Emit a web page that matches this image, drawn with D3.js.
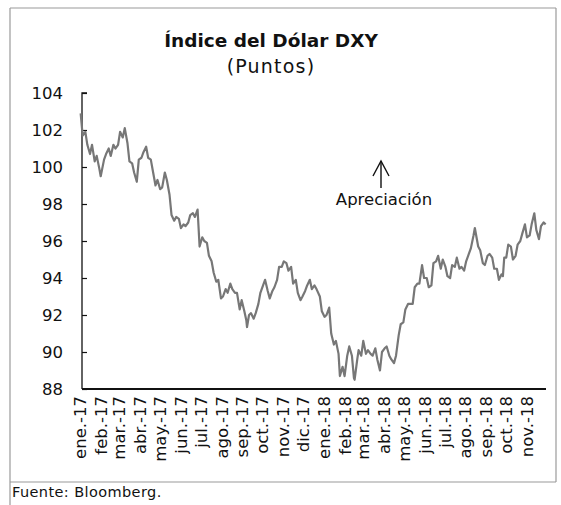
<!DOCTYPE html>
<html><head><meta charset="utf-8">
<script src="https://cdn.jsdelivr.net/npm/d3@7"></script>
<style>body{margin:0;background:#fff}svg{display:block}</style>
</head><body><svg id="c" width="561" height="505"></svg>
<script>
const title = "Índice del Dólar DXY";
const subtitle = "(Puntos)";
const source = "Fuente: Bloomberg.";
const note = "Apreciación";
const yTicks = [88, 90, 92, 94, 96, 98, 100, 102, 104];
const monthLabels = ["ene.-17","feb.-17","mar.-17","abr.-17","may.-17","jun.-17","jul.-17","ago.-17","sep.-17","oct.-17","nov.-17","dic.-17",
  "ene.-18","feb.-18","mar.-18","abr.-18","may.-18","jun.-18","jul.-18","ago.-18","sep.-18","oct.-18","nov.-18"];
const dates = [
 "2017-01-02","2017-01-05","2017-01-09","2017-01-12","2017-01-16","2017-01-19","2017-01-23","2017-01-26","2017-01-30","2017-02-01",
 "2017-02-06","2017-02-09","2017-02-13","2017-02-16","2017-02-20","2017-02-23","2017-02-27","2017-03-02","2017-03-06","2017-03-09",
 "2017-03-13","2017-03-16","2017-03-20","2017-03-23","2017-03-27","2017-03-30","2017-04-03","2017-04-06","2017-04-10","2017-04-13",
 "2017-04-17","2017-04-20","2017-04-24","2017-04-27","2017-05-01","2017-05-04","2017-05-08","2017-05-11","2017-05-15","2017-05-18",
 "2017-05-22","2017-05-25","2017-05-29","2017-06-01","2017-06-05","2017-06-08","2017-06-12","2017-06-15","2017-06-19","2017-06-22",
 "2017-06-26","2017-06-29","2017-07-03","2017-07-06","2017-07-10","2017-07-13","2017-07-17","2017-07-20","2017-07-24","2017-07-27",
 "2017-07-31","2017-08-03","2017-08-07","2017-08-10","2017-08-14","2017-08-17","2017-08-21","2017-08-24","2017-08-28","2017-08-31",
 "2017-09-04","2017-09-07","2017-09-08","2017-09-11","2017-09-14","2017-09-18","2017-09-21","2017-09-25","2017-09-28","2017-10-02",
 "2017-10-05","2017-10-09","2017-10-12","2017-10-16","2017-10-19","2017-10-23","2017-10-26","2017-10-30","2017-11-02","2017-11-06",
 "2017-11-09","2017-11-13","2017-11-16","2017-11-20","2017-11-23","2017-11-27","2017-11-30","2017-12-04","2017-12-07","2017-12-11",
 "2017-12-14","2017-12-18","2017-12-21","2017-12-26","2017-12-29","2018-01-02","2018-01-05","2018-01-09","2018-01-12","2018-01-16",
 "2018-01-19","2018-01-23","2018-01-25","2018-01-29","2018-02-01","2018-02-05","2018-02-08","2018-02-12","2018-02-15","2018-02-16",
 "2018-02-20","2018-02-22","2018-02-26","2018-03-01","2018-03-05","2018-03-08","2018-03-12","2018-03-15","2018-03-19","2018-03-22",
 "2018-03-26","2018-03-29","2018-04-02","2018-04-05","2018-04-09","2018-04-12","2018-04-16","2018-04-19","2018-04-23","2018-04-26",
 "2018-04-30","2018-05-03","2018-05-07","2018-05-10","2018-05-14","2018-05-17","2018-05-21","2018-05-24","2018-05-28","2018-05-31",
 "2018-06-04","2018-06-07","2018-06-11","2018-06-14","2018-06-18","2018-06-21","2018-06-25","2018-06-28","2018-07-02","2018-07-05",
 "2018-07-09","2018-07-12","2018-07-16","2018-07-19","2018-07-23","2018-07-26","2018-07-30","2018-08-02","2018-08-06","2018-08-09",
 "2018-08-13","2018-08-15","2018-08-20","2018-08-23","2018-08-27","2018-08-30","2018-09-03","2018-09-06","2018-09-10","2018-09-13",
 "2018-09-17","2018-09-20","2018-09-24","2018-09-26","2018-09-28","2018-10-01","2018-10-04","2018-10-08","2018-10-11","2018-10-15",
 "2018-10-18","2018-10-22","2018-10-25","2018-10-29","2018-11-01","2018-11-05","2018-11-08","2018-11-12","2018-11-15","2018-11-19",
 "2018-11-22","2018-11-26","2018-11-29"];
const dxy = [
 102.9,101.7,101.9,101.2,100.7,101.2,100.3,100.6,99.9,99.5,
 100.4,100.7,101.0,100.6,101.2,101.0,101.2,101.9,101.6,102.1,
 101.3,100.3,100.2,99.7,99.2,100.4,100.5,100.8,101.1,100.5,
 100.4,99.8,99.0,99.3,98.8,98.9,99.7,99.3,98.5,97.4,
 97.1,97.3,97.2,96.7,96.9,96.8,97.0,97.4,97.5,97.3,
 97.7,95.7,96.2,96.0,95.9,95.2,94.9,94.3,93.8,93.9,
 92.9,93.0,93.4,93.2,93.7,93.4,93.2,93.2,92.3,92.8,
 92.2,91.7,91.35,92.0,92.1,91.8,92.1,92.6,93.2,93.6,
 93.9,93.3,92.9,93.3,93.5,93.9,94.6,94.6,94.9,94.8,
 94.4,94.6,93.7,93.9,93.2,92.8,93.0,93.3,93.6,93.9,
 93.4,93.6,93.4,93.0,92.2,91.9,92.0,92.4,91.0,90.4,
 90.6,89.9,88.7,89.2,88.7,89.8,90.3,89.8,88.6,88.5,
 89.6,90.1,89.8,90.6,89.9,90.1,89.9,89.8,90.2,89.6,
 89.0,90.0,90.2,90.3,89.8,89.6,89.4,89.8,90.9,91.5,
 91.6,92.3,92.6,92.6,92.6,93.5,93.7,93.7,94.7,94.0,
 94.0,93.5,93.6,94.8,94.9,95.2,94.5,95.0,94.6,94.1,
 94.0,94.7,94.6,95.1,94.5,94.6,94.4,94.9,95.3,95.6,
 96.3,96.7,95.7,95.5,94.8,94.7,95.2,95.3,95.1,94.5,
 94.5,93.9,94.2,94.1,95.1,95.1,95.8,95.7,95.0,95.2,
 95.8,96.0,96.4,96.9,96.2,96.3,96.9,97.5,96.6,96.1,
 96.8,97.0,96.9];

const FONT = "'DejaVu Sans', sans-serif";
const svg = d3.select("#c");

// frame
const frame = svg.append("g").attr("stroke", "#9a9a9a").attr("stroke-width", 1.2).attr("fill", "none");
frame.append("line").attr("x1", 10).attr("y1", 8).attr("x2", 10).attr("y2", 505);
frame.append("line").attr("x1", 10).attr("y1", 8).attr("x2", 556).attr("y2", 8);
frame.append("line").attr("x1", 556).attr("y1", 8).attr("x2", 556).attr("y2", 482);
frame.append("line").attr("x1", 10).attr("y1", 482).attr("x2", 556).attr("y2", 482);

// titles
svg.append("text").attr("x", 271).attr("y", 47).attr("text-anchor", "middle")
  .attr("font-family", FONT).attr("font-weight", "bold").attr("font-size", 18.5).attr("fill", "#111").text(title);
svg.append("text").attr("x", 271).attr("y", 73).attr("text-anchor", "middle")
  .attr("font-family", FONT).attr("font-size", 19).attr("letter-spacing", 1.2).attr("fill", "#111").text(subtitle);

const parse = d3.timeParse("%Y-%m-%d");
const pts = dates.map((d, i) => ({date: parse(d), v: dxy[i]}));

const x = d3.scaleTime().domain([parse("2017-01-01"), parse("2018-12-01")]).range([80, 547]);
const y = d3.scaleLinear().domain([88, 104]).range([389, 93]);

// y axis
const yAxis = svg.append("g").attr("transform", "translate(82,0)")
  .call(d3.axisRight(y).tickValues(yTicks).tickSize(5).tickFormat(""));
yAxis.select(".domain").attr("stroke", "#111").attr("stroke-width", 1.3).attr("d", `M5,${y(104)}H0V${y(88)}`);
yAxis.selectAll(".tick line").attr("stroke", "#111").attr("stroke-width", 1.2);
svg.append("g").selectAll("text").data(yTicks).join("text")
  .attr("x", 63).attr("y", d => y(d)).attr("dy", "0.36em").attr("text-anchor", "end")
  .attr("font-family", FONT).attr("font-size", 16.5).attr("fill", "#111").text(d => d);

// line
const line = d3.line().x(d => x(d.date)).y(d => y(d.v)).curve(d3.curveLinear);
svg.append("path").datum(pts).attr("d", line).attr("fill", "none")
  .attr("stroke", "#777").attr("stroke-width", 2.2).attr("stroke-linejoin", "round");

// x axis
const monthDates = d3.timeMonth.range(parse("2017-01-01"), parse("2018-12-01"));
const xAxis = svg.append("g").attr("transform", `translate(0,${y(88)})`)
  .call(d3.axisBottom(x).tickValues(monthDates).tickSize(0).tickFormat(""));
xAxis.select(".domain").attr("stroke", "#111").attr("stroke-width", 2.2).attr("d", `M82,0H546`);
svg.append("g").selectAll("text").data(monthDates).join("text")
  .attr("transform", d => `translate(${x(d)},396) rotate(-90)`)
  .attr("dy", "0.36em").attr("text-anchor", "end")
  .attr("font-family", FONT).attr("font-size", 16.5).attr("fill", "#111")
  .text((d, i) => monthLabels[i]);

// annotation
const ann = svg.append("g").attr("stroke", "#111").attr("stroke-width", 1.4).attr("fill", "none");
ann.append("line").attr("x1", 381).attr("y1", 188).attr("x2", 381).attr("y2", 161);
ann.append("path").attr("d", "M373,176L381,161L389,176");
svg.append("text").attr("x", 384).attr("y", 205).attr("text-anchor", "middle")
  .attr("font-family", FONT).attr("font-size", 16.5).attr("fill", "#111").text(note);

svg.append("text").attr("x", 12).attr("y", 497)
  .attr("font-family", FONT).attr("font-size", 14.5).attr("letter-spacing", 0.4).attr("fill", "#111").text(source);
</script>
</body></html>
